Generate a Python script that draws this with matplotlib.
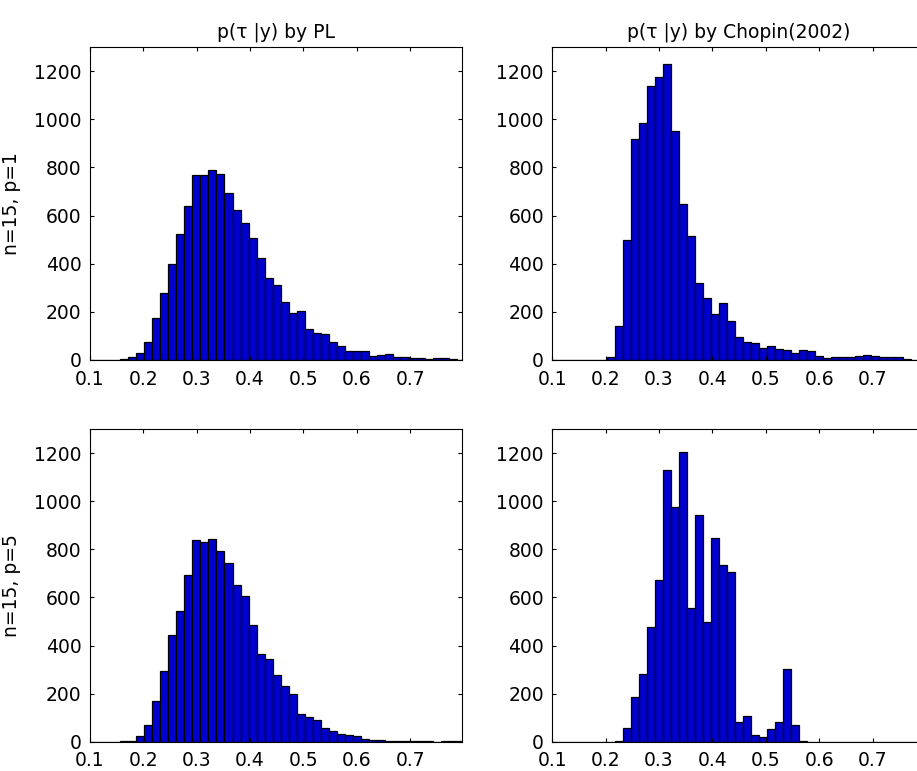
import matplotlib
matplotlib.use('Agg')
import matplotlib.pyplot as plt
import numpy as np

plt.rcParams['font.family'] = ['DejaVu Sans']

# histogram bins (same grid for all four panels)
bin_start = 0.097
bin_width = 0.015

# counts per bin
pl_p1 = [0, 0, 0, 1, 2, 12, 29, 72, 172, 276, 400, 524, 640, 769, 770, 791,
         772, 694, 621, 568, 508, 425, 342, 310, 240, 194, 201, 127, 112, 108,
         75, 58, 37, 37, 35, 14, 18, 25, 12, 11, 7, 7, 4, 7, 7, 3, 1]
chopin_p1 = [0, 0, 0, 0, 0, 0, 0, 11, 141, 497, 920, 985, 1138, 1176, 1229,
             952, 646, 515, 319, 256, 191, 238, 162, 96, 72, 69, 48, 58, 44,
             39, 28, 42, 36, 17, 7, 10, 11, 10, 17, 18, 14, 12, 10, 12, 2, 1, 0]
pl_p5 = [0, 0, 0, 0, 1, 4, 24, 69, 169, 292, 445, 543, 693, 840, 829, 844,
         791, 744, 650, 604, 484, 363, 342, 276, 233, 200, 115, 103, 89, 55,
         46, 33, 29, 22, 11, 7, 7, 3, 4, 4, 1, 1, 1, 0, 1, 1, 3]
chopin_p5 = [0, 0, 0, 0, 0, 0, 0, 0, 3, 55, 186, 283, 475, 673, 1128, 977,
             1204, 556, 941, 498, 848, 734, 704, 80, 107, 28, 18, 53, 80, 303,
             71, 4, 0, 0, 0, 0, 0, 0, 0, 0, 0, 0, 0, 0, 0, 0, 0]

titles = ['p(τ |y) by PL', 'p(τ |y) by Chopin(2002)']
row_labels = ['n=15, p=1', 'n=15, p=5']
x_ticks = [0.1, 0.2, 0.3, 0.4, 0.5, 0.6, 0.7]
y_ticks = [0, 200, 400, 600, 800, 1000, 1200]

panels = [[pl_p1, chopin_p1], [pl_p5, chopin_p5]]

W, H = 917, 771
fig = plt.figure(figsize=(W / 100, H / 100), dpi=100)

lefts = [90, 552.3]
bottoms = [359.8, 741.7]  # pixel row of the zero line
ax_w, ax_h = 372, 312.6
fs = 13.5

for r in range(2):
    for c in range(2):
        ax = fig.add_axes([lefts[c] / W, (H - bottoms[r]) / H, ax_w / W, ax_h / H])
        counts = np.array(panels[r][c])
        edges = bin_start + bin_width * np.arange(len(counts))
        ax.bar(edges, counts, width=bin_width, align='edge', color='#0000CC',
               edgecolor='black', linewidth=0.9)
        ax.set_xlim(0.1, 0.797)
        ax.set_ylim(0, 1300)
        ax.set_xticks(x_ticks)
        ax.set_xticklabels([f'{t:.1f}' for t in x_ticks])
        ax.set_yticks(y_ticks)
        ax.tick_params(direction='in', length=3, width=0.8, top=True, right=True,
                       labelsize=fs, colors='black')
        ax.tick_params(axis='x', pad=7)
        ax.tick_params(axis='y', pad=6)
        for s in ax.spines.values():
            s.set_linewidth(0.8)
        if r == 0:
            ax.set_title(titles[c], fontsize=fs, pad=7)
        if c == 0:
            ax.set_ylabel(row_labels[r], fontsize=fs)
            ax.yaxis.set_label_coords(-0.185, 0.5)

fig.savefig('out.png', dpi=100)
